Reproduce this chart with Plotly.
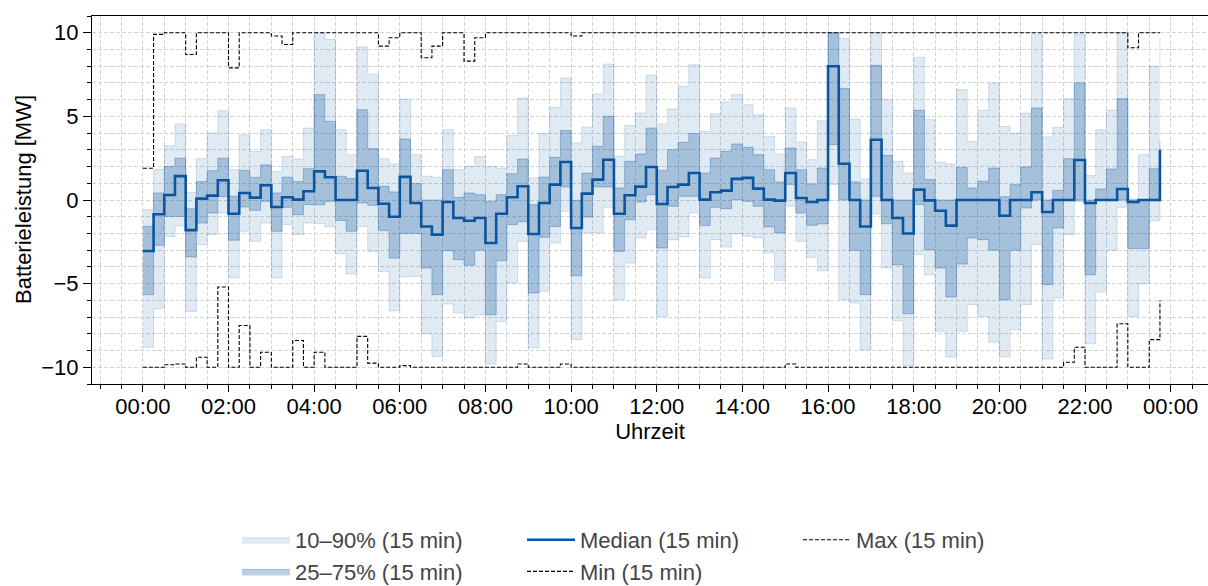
import pandas as pd
import plotly.graph_objects as go

# ---- data (15-min intervals, 00:00 .. 23:45) ----
times = pd.date_range("2024-01-01 00:00", periods=96, freq="15min")

median = [-3.05, -0.85, 0.3, 1.43, -1.8, 0.08, 0.26, 1.18, -0.82, 0.42, 0.14, 0.88,
          -0.42, 0.16, 0.02, 0.52, 1.71, 1.36, 0.0, 0.0, 1.75, 0.72, -0.22, -1.0,
          1.38, -0.18, -1.58, -2.07, -0.12, -1.08, -1.24, -1.08, -2.57, -0.82, 0.16, 0.82,
          -2.03, -0.18, 0.92, 2.27, -1.67, 0.38, 1.22, 2.41, -0.82, 0.28, 0.8, 1.97,
          -0.24, 0.78, 0.92, 1.61, 0.02, 0.46, 0.56, 1.26, 1.32, 0.68, 0.02, -0.04,
          1.61, 0.12, -0.12, 0.0, 8.0, 2.17, 0.0, -1.58, 3.6, 0.0, -1.08, -2.0,
          0.62, -0.02, -0.64, -1.53, 0.0, 0.0, 0.0, 0.0, -0.94, 0.0, 0.0, 0.46,
          -0.72, 0.0, 0.0, 2.39, -0.18, 0.0, 0.0, 0.66, -0.12, 0.0, 0.0, 3.0]

q75 = [-1.58, 0.42, 2.0, 2.5, -0.52, 1.1, 1.75, 2.5, 0.22, 1.77, 1.35, 2.1,
       0.42, 1.37, 1.1, 1.87, 6.3, 4.7, 1.42, 1.28, 5.4, 3.07, 0.82, 0.48,
       3.65, 0.98, 0.0, 0.0, 1.81, 0.16, 0.42, 0.32, -0.08, 0.32, 1.57, 2.45,
       -0.28, 1.37, 2.55, 4.15, -0.02, 1.61, 3.21, 5.0, 0.72, 2.31, 2.75, 4.3,
       1.77, 3.01, 3.45, 3.97, 1.61, 2.51, 2.91, 3.35, 3.15, 2.71, 1.81, 1.08,
       3.11, 1.81, 0.96, 1.91, 10.0, 6.66, 1.08, 0.0, 8.05, 2.67, 0.0, 0.0,
       5.36, 1.22, 0.0, 0.0, 1.95, 0.72, 1.12, 1.91, 0.2, 0.92, 1.97, 5.5,
       0.0, 0.58, 2.47, 7.0, 0.0, 0.66, 1.85, 6.06, 0.0, 0.0, 1.87, 3.5]

q25 = [-5.66, -2.71, -0.98, -0.98, -3.41, -1.38, -0.78, 0.2, -2.4, -0.42, -0.62, -0.08,
       -1.87, -0.44, -0.88, -0.28, -0.28, -0.08, -1.22, -1.87, -0.18, -0.32, -1.83, -3.47,
       -2.0, -2.0, -4.07, -5.66, -3.03, -3.57, -3.9, -3.0, -6.86, -3.63, -1.47, -1.3,
       -5.56, -2.23, -1.58, 0.78, -4.53, -1.02, 0.78, 0.78, -3.07, -1.18, -0.12, 0.32,
       -2.87, -0.38, 0.22, 0.22, -1.53, -0.44, -0.52, 0.02, -0.08, -0.38, -1.61, -1.97,
       0.92, -0.78, -1.51, -1.43, 3.31, 0.0, -3.01, -5.66, 0.22, -1.42, -3.87, -6.8,
       -0.28, -2.97, -4.07, -5.8, -3.83, -2.27, -2.37, -3.0, -5.96, -3.01, -0.48, 0.0,
       -5.06, -1.67, 0.0, 0.0, -4.47, 0.0, 0.0, 0.0, -2.9, -2.9, 0.0, 2.5]

q90 = [-0.58, 1.82, 3.24, 4.55, 0.46, 2.47, 4.0, 5.34, 1.81, 3.9, 2.9, 4.2,
       1.71, 2.6, 2.45, 4.3, 10.0, 9.6, 4.2, 2.7, 9.15, 7.54, 2.47, 2.15,
       6.04, 2.7, 1.42, 1.36, 4.2, 1.81, 2.0, 2.6, 2.0, 1.91, 3.85, 6.1,
       1.32, 3.97, 5.54, 7.3, 3.41, 4.37, 6.34, 8.13, 2.61, 4.45, 5.2, 7.46,
       4.55, 5.44, 6.8, 8.09, 4.11, 5.16, 5.86, 6.3, 5.7, 5.1, 3.81, 2.75,
       5.5, 3.47, 2.41, 4.74, 10.0, 9.65, 4.84, 1.26, 10.0, 6.0, 2.31, 1.61,
       8.53, 4.8, 2.25, 2.15, 6.6, 3.51, 5.36, 7.0, 4.4, 4.0, 5.2, 9.9,
       3.77, 4.35, 6.06, 9.9, 1.46, 4.2, 5.36, 10.0, 0.06, 2.71, 8.0, 9.7]

q10 = [-8.8, -6.5, -2.18, -1.55, -6.66, -2.67, -2.07, -0.78, -4.66, -1.87, -2.47, -1.38,
       -4.66, -1.47, -2.07, -1.38, -1.4, -1.6, -3.23, -4.43, -1.58, -3.1, -4.27, -6.62,
       -4.6, -4.57, -8.0, -9.35, -6.22, -6.76, -7.06, -6.86, -9.8, -7.26, -4.96, -2.47,
       -8.85, -5.46, -2.57, -0.68, -8.35, -1.97, -1.97, -0.44, -5.96, -3.77, -2.27, -1.77,
       -6.96, -2.37, -2.21, -0.78, -4.66, -2.37, -2.81, -2.03, -2.17, -2.27, -3.17, -4.8,
       -0.38, -2.47, -3.43, -4.23, 0.92, -5.96, -6.16, -8.95, -0.84, -4.07, -7.22, -9.91,
       -3.27, -4.47, -7.85, -9.39, -7.85, -6.26, -6.96, -8.5, -9.39, -7.76, -6.26, -2.67,
       -9.51, -5.86, -2.07, -0.1, -8.6, -5.5, -3.0, -0.44, -6.96, -5.02, -1.24, 1.5]

vmax = [1.9, 9.9, 10, 10, 8.7, 10, 10, 10, 7.9, 10, 10, 10,
        9.8, 9.3, 10, 10, 10, 10, 10, 10, 10, 10, 9.2, 9.7,
        10, 10, 8.5, 9.2, 10, 10, 8.3, 9.7, 10, 10, 10, 10,
        10, 10, 10, 10, 9.8, 10, 10, 10, 10, 10, 10, 10,
        10, 10, 10, 10, 10, 10, 10, 10, 10, 10, 10, 10,
        10, 10, 10, 10, 10, 10, 10, 10, 10, 10, 10, 10,
        10, 10, 10, 10, 10, 10, 10, 10, 10, 10, 10, 10,
        10, 10, 10, 10, 10, 10, 10, 10, 9.1, 10, 10, 10]

vmin = [-10, -10, -9.85, -9.8, -10, -9.4, -10, -5.2, -10, -7.5, -10, -9.1,
        -10, -10, -8.4, -10, -9.1, -10, -10, -10, -8.15, -9.75, -10, -10,
        -9.9, -10, -10, -10, -10, -10, -10, -10, -10, -10, -10, -9.8,
        -10, -10, -10, -9.8, -10, -10, -10, -10, -10, -10, -10, -10,
        -10, -10, -10, -10, -10, -10, -10, -10, -10, -10, -10, -10,
        -9.8, -10, -10, -10, -10, -10, -10, -10, -10, -10, -10, -10,
        -10, -10, -10, -10, -10, -10, -10, -10, -10, -10, -10, -10,
        -10, -10, -9.7, -8.8, -10, -10, -10, -7.4, -10, -10, -8.35, -6.0]

y_tickvals = [-10, -5, 0, 5, 10]
y_ticktext = ["\u221210", "\u22125", "0", "5", "10"]

# ---- styles ----
BLUE = "rgb(11,84,158)"
LIGHT_FILL = "rgba(11,84,158,0.125)"
LIGHT_EDGE = "rgba(11,84,158,0.16)"
DARK_FILL = "rgba(11,84,158,0.28)"
DARK_EDGE = "rgba(11,84,158,0.32)"
FONT = "Liberation Sans, Arial, sans-serif"
GRID = "#d4d4d4"
DASH = "4px,2px"

fig = go.Figure()

fig.add_trace(go.Scatter(x=times, y=q10, mode="lines", line=dict(shape="hv", color=LIGHT_EDGE, width=1),
                         showlegend=False, hoverinfo="skip", legend="legend"))
fig.add_trace(go.Scatter(x=times, y=q90, mode="lines", line=dict(shape="hv", color=LIGHT_EDGE, width=1),
                         fill="tonexty", fillcolor=LIGHT_FILL, name="10\u201390% (15 min)", legend="legend"))
fig.add_trace(go.Scatter(x=times, y=q25, mode="lines", line=dict(shape="hv", color=DARK_EDGE, width=1),
                         showlegend=False, hoverinfo="skip", legend="legend"))
fig.add_trace(go.Scatter(x=times, y=q75, mode="lines", line=dict(shape="hv", color=DARK_EDGE, width=1),
                         fill="tonexty", fillcolor=DARK_FILL, name="25\u201375% (15 min)", legend="legend"))
fig.add_trace(go.Scatter(x=times, y=median, mode="lines", line=dict(shape="hv", color=BLUE, width=2.6),
                         name="Median (15 min)", legend="legend2"))
fig.add_trace(go.Scatter(x=times, y=vmin, mode="lines", line=dict(shape="hv", color="black", width=1.1, dash=DASH),
                         name="Min (15 min)", legend="legend2"))
fig.add_trace(go.Scatter(x=times, y=vmax, mode="lines", line=dict(shape="hv", color="black", width=1.1, dash=DASH),
                         name="Max (15 min)", legend="legend3"))

W = 48
leg_common = dict(xref="container", yref="container", yanchor="top", xanchor="left",
                  orientation="v", bgcolor="rgba(0,0,0,0)", borderwidth=0,
                  font=dict(family=FONT, size=22, color="#444444"), itemwidth=W,
                  tracegroupgap=0, traceorder="normal")
LEG_TOP = 1 - 519 / 586

fig.update_layout(
    width=1208, height=586,
    margin=dict(l=92, r=0, t=16, b=202, autoexpand=False),
    plot_bgcolor="white", paper_bgcolor="white",
    font=dict(family=FONT, size=22, color="black"),
    legend=dict(x=(297 - W - 12) / 1208, y=LEG_TOP, **leg_common),
    legend2=dict(x=(582 - W - 12) / 1208, y=LEG_TOP, **leg_common),
    legend3=dict(x=(858 - W - 12) / 1208, y=LEG_TOP, **leg_common),
    annotations=[dict(text="Batterieleistung [MW]", textangle=-90, xref="paper", yref="paper",
                      x=(23 - 92) / 1116, y=0.5, xanchor="center", yanchor="middle", showarrow=False,
                      font=dict(family=FONT, size=22, color="black"))],
)

fig.update_xaxes(
    type="date",
    range=["2023-12-31 22:48:45", "2024-01-02 00:52:20"],
    tickformat="%H:%M", dtick=2 * 3600 * 1000, tick0="2024-01-01 00:00",
    ticks="outside", ticklen=7, tickwidth=1, tickcolor="black",
    showline=True, linecolor="black", linewidth=1, mirror=True,
    showgrid=True, gridcolor=GRID, griddash=DASH, gridwidth=1,
    zeroline=False, automargin=False,
    tickfont=dict(family=FONT, size=22, color="black"),
    title=dict(text="Uhrzeit", font=dict(family=FONT, size=22, color="black"), standoff=0),
    minor=dict(dtick=30 * 60 * 1000, tick0="2024-01-01 00:00", ticks="outside", ticklen=4,
               tickcolor="black", showgrid=True, gridcolor=GRID, griddash=DASH, gridwidth=1),
)
try:
    fig.update_xaxes(ticklabelstandoff=-4)
except Exception:
    pass

fig.update_yaxes(
    range=[-11, 11],
    tickvals=y_tickvals, ticktext=y_ticktext,
    ticks="outside", ticklen=8, tickwidth=1, tickcolor="black",
    showline=True, linecolor="black", linewidth=1, mirror=False,
    showgrid=True, gridcolor=GRID, griddash=DASH, gridwidth=1,
    zeroline=False, automargin=False,
    tickfont=dict(family=FONT, size=22, color="black"),
    minor=dict(dtick=1, tick0=0, ticks="outside", ticklen=4, tickcolor="black",
               showgrid=True, gridcolor=GRID, griddash=DASH, gridwidth=1),
)

fig.write_html("out.html")
